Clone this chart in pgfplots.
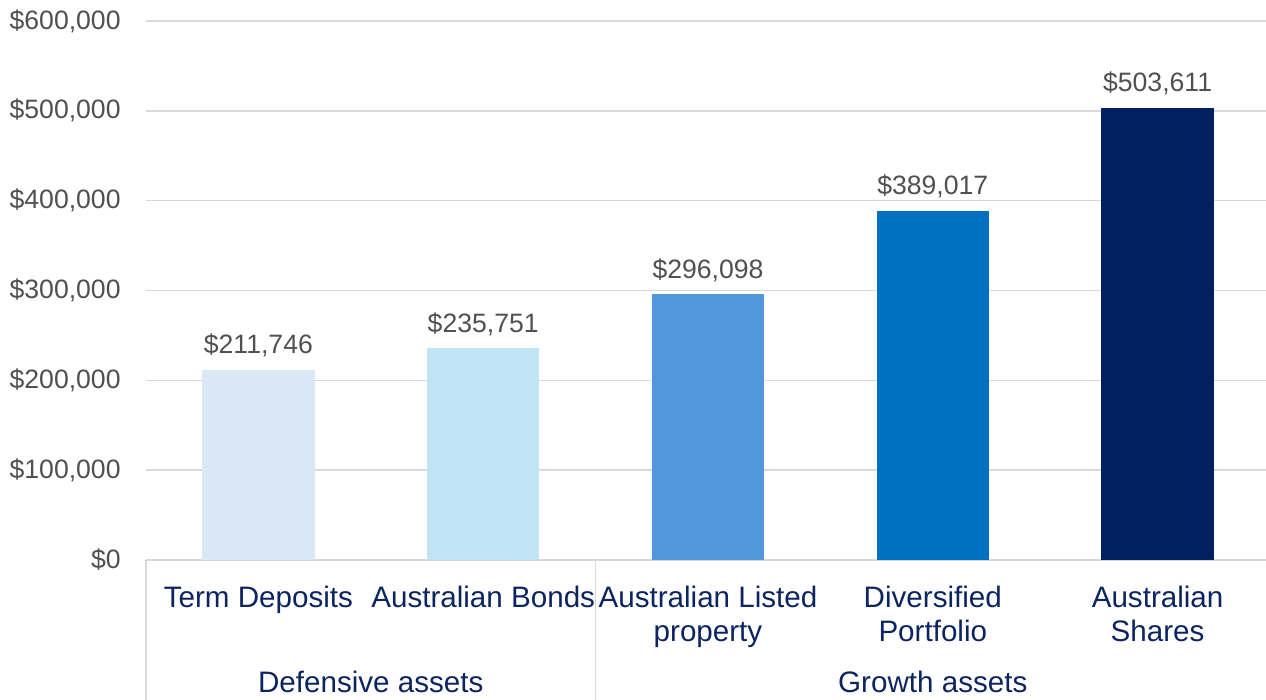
\documentclass[border=0pt]{standalone}
\usepackage{pgfplots}
\pgfplotsset{compat=1.18}
\usepackage{fontspec}
\setmainfont{Liberation Sans}
\definecolor{c1}{HTML}{DAE8F5}
\definecolor{c2}{HTML}{C1E4F5}
\definecolor{c3}{HTML}{5197DB}
\definecolor{c4}{HTML}{0070C0}
\definecolor{c5}{HTML}{002060}
\definecolor{navy}{HTML}{0C2461}
\definecolor{lab}{HTML}{505050}
\definecolor{gridgray}{HTML}{D9D9D9}
\begin{document}
\begin{tikzpicture}
\useasboundingbox (-73pt,-70pt) rectangle (560pt,280pt);
\begin{axis}[
  at={(0,0)}, anchor=south west,
  scale only axis, width=562pt, height=269.5pt,
  xmin=-0.5, xmax=4.5, ymin=0, ymax=600000,
  axis line style={draw=none},
  major tick length=0pt,
  scaled y ticks=false,
  ymajorgrids, grid style={gridgray, line width=0.8pt},
  ytick={0,100000,200000,300000,400000,500000,600000},
  yticklabels={\$0,{\$100,000},{\$200,000},{\$300,000},{\$400,000},{\$500,000},{\$600,000}},
  yticklabel style={anchor=east, inner sep=0pt, xshift=-12.5pt, text=lab, font=\fontsize{13.3}{15}\selectfont},
  xtick={0,1,2,3,4},
  xticklabels={Term Deposits,Australian Bonds,Australian Listed\\property,Diversified\\Portfolio,Australian\\Shares},
  xticklabel style={anchor=north, inner sep=0pt, yshift=-13pt, align=center, text=navy, font=\fontsize{14.8}{17}\selectfont},
  ybar, bar width=0.5, bar shift=0pt,
  point meta=explicit symbolic,
  nodes near coords,
  every node near coord/.append style={anchor=base, inner sep=0pt, yshift=8pt, text=lab, font=\fontsize{13.3}{15}\selectfont},
  clip=false,
]
\addplot[draw=none, fill=c1] coordinates {(0,211746) [\$211,746]};
\addplot[draw=none, fill=c2] coordinates {(1,235751) [\$235,751]};
\addplot[draw=none, fill=c3] coordinates {(2,296098) [\$296,098]};
\addplot[draw=none, fill=c4] coordinates {(3,389017) [\$389,017]};
\addplot[draw=none, fill=c5] coordinates {(4,503611) [\$503,611]};
\draw[gridgray, line width=0.8pt] (axis cs:-0.5,0) -- ([yshift=-70pt]axis cs:-0.5,0);
\draw[gridgray, line width=0.8pt] (axis cs:1.5,0) -- ([yshift=-70pt]axis cs:1.5,0);
\node[anchor=base, yshift=-66.5pt, text=navy, font=\fontsize{14.8}{16.5}\selectfont] at (axis cs:0.5,0) {Defensive assets};
\node[anchor=base, yshift=-66.5pt, text=navy, font=\fontsize{14.8}{16.5}\selectfont] at (axis cs:3,0) {Growth assets};
\end{axis}
\end{tikzpicture}
\end{document}
